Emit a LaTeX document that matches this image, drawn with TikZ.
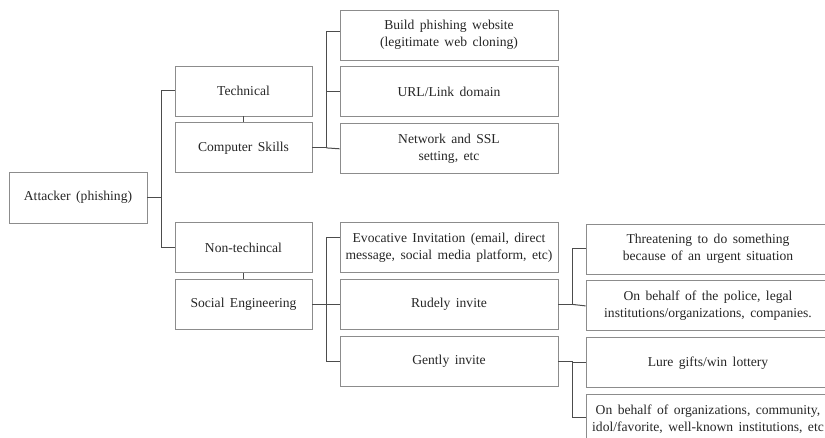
\documentclass[tikz,border=0pt]{standalone}
\usepackage{fontspec}
\setmainfont{Liberation Serif}[WordSpace=1.6]
\usepackage{tikz}
\usetikzlibrary{positioning}

\begin{document}
\begin{tikzpicture}[
    x=1pt, y=-1pt,
    node distance=6pt,
    every node/.style={font=\fontsize{13.6}{17}\selectfont, text=black!85},
    rootbox/.style={rectangle, draw=black!45, line width=0.9pt, minimum width=138pt, minimum height=51pt, inner sep=2pt, align=center},
    midbox/.style={rectangle, draw=black!45, line width=0.9pt, minimum width=137pt, minimum height=50pt, inner sep=2pt, align=center},
    leafbox/.style={rectangle, draw=black!45, line width=0.9pt, minimum width=218pt, minimum height=50pt, inner sep=2pt, align=center},
    endbox/.style={rectangle, draw=black!45, line width=0.9pt, minimum width=244pt, minimum height=50pt, inner sep=1pt, align=center},
    link/.style={draw=black!70, line width=1pt}
]
\useasboundingbox (0,0) rectangle (825,438);
\clip (0,0) rectangle (825,438);

% Root
\node[rootbox] (attacker) at (78,197.5) {Attacker (phishing)};

% Technical branch
\node[midbox] (tech) at (243.5,91) {Technical};
\node[midbox, below=of tech] (comp) {Computer Skills};
\node[leafbox] (build) at (449,35) {Build phishing website\\(legitimate web cloning)};
\node[leafbox, below=of build] (url) {URL/Link domain};
\node[leafbox, below=of url] (ssl) {Network and SSL\\setting, etc};

% Non-technical branch
\node[midbox] (nontech) at (243.5,247.5) {Non-techincal};
\node[midbox, below=of nontech] (social) {Social Engineering};
\node[leafbox] (evoc) at (449,247.5) {Evocative Invitation (email, direct\\message, social media platform, etc)};
\node[leafbox, below=of evoc] (rude) {Rudely invite};
\node[leafbox, below=of rude] (gentle) {Gently invite};

% Invitation details
\node[endbox] (threat) at (708,249) {Threatening to do something\\because of an urgent situation};
\node[endbox, below=of threat] (police) {On behalf of the police, legal\\institutions/organizations, companies.};
\node[endbox, below=of police] (lure) {Lure gifts/win lottery};
\node[endbox, below=of lure] (orgs) {On behalf of organizations, community,\\idol/favorite, well-known institutions, etc};

% Connectors
\draw[link] (attacker.east) -- ++(14,0) coordinate (rootfork) |- (tech.west);
\draw[link] (rootfork) |- (nontech.west);
\draw[link] (tech.south) -- (comp.north);
\draw[link] (nontech.south) -- (social.north);

\draw[link] (comp.east) -- ++(14,0) coordinate (techfork) |- ([yshift=3pt]build.west);
\draw[link] (techfork) |- (url.west);
\draw[link] (techfork) -- (ssl.west);

\draw[link] (social.east) -- ++(14,0) coordinate (socfork) |- ([yshift=10pt]evoc.west);
\draw[link] (socfork) -- (rude.west);
\draw[link] (socfork) |- (gentle.west);

\draw[link] (rude.east) -- ++(14,0) coordinate (rudefork) |- (threat.west);
\draw[link] (rudefork) -- (police.west);
\draw[link] (gentle.east) -- ++(14,0) coordinate (gentfork) |- (lure.west);
\draw[link] (gentfork) |- ([yshift=2pt]orgs.west);
\end{tikzpicture}
\end{document}
